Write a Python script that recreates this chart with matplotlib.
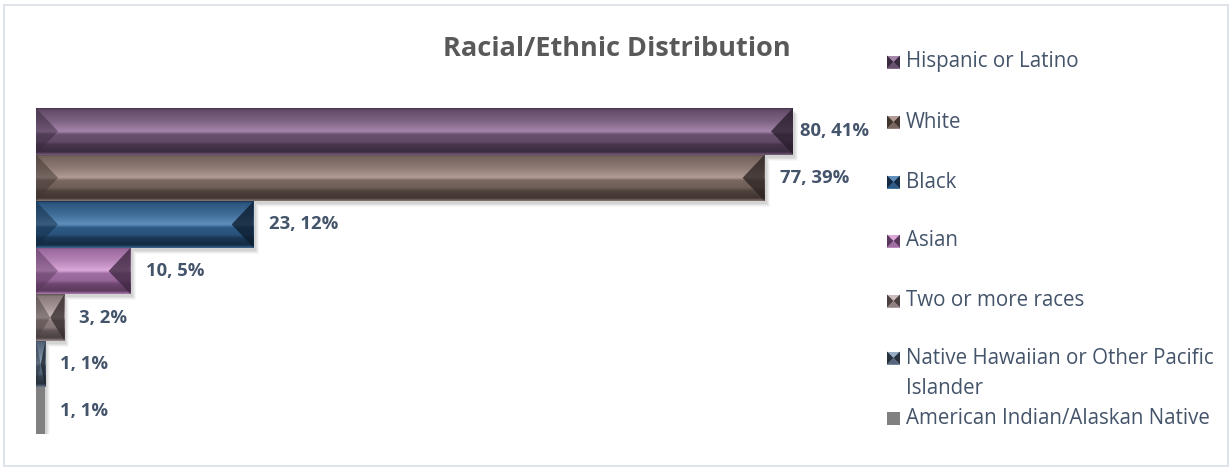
import matplotlib
matplotlib.use("Agg")
import matplotlib.pyplot as plt
import numpy as np
from matplotlib.patches import Polygon, Rectangle
from matplotlib.colors import LinearSegmentedColormap, to_rgb

plt.rcParams['font.family'] = ['Open Sans', 'DejaVu Sans']

# ---- data ----
categories = ["Hispanic or Latino", "White", "Black", "Asian",
              "Two or more races", "Native Hawaiian or Other Pacific\nIslander",
              "American Indian/Alaskan Native"]
counts = [80, 77, 23, 10, 3, 1, 1]
percents = [41, 39, 12, 5, 2, 1, 1]

# bevel palettes: (mid, light, dark)
palettes = [
    ("#68506E", "#A687AC", "#3A2A3F"),
    ("#786660", "#B29C95", "#3F3430"),
    ("#2D5A85", "#6190BD", "#132A42"),
    ("#A06DA3", "#DCA9DA", "#5A385D"),
    ("#8F7F80", "#CDBDBD", "#4B4142"),
    ("#56677D", "#97ABC2", "#27313D"),
    None,
]
flat_color = "#808080"
label_offsets = [7, 15, 15, 15, 15, 15, 15]

W, H = 1231, 468
PX = 9.4625  # pixels per unit on the value axis
AX_L, AX_T, AX_B, AX_W = 36, 108, 434, 850

fig = plt.figure(figsize=(W / 100, H / 100), dpi=100)
fig.patch.set_facecolor("white")

# outer chart border
fig.patches.append(Rectangle((4 / W, 1 - 466 / H), 1224 / W, 461 / H,
                             transform=fig.transFigure, fill=False,
                             edgecolor="#D9DEE6", linewidth=1.2))

ax = fig.add_axes([AX_L / W, 1 - AX_B / H, AX_W / W, (AX_B - AX_T) / H])
ax.set_xlim(0, AX_W / PX)
ax.set_ylim(len(counts) - 0.5, -0.5)
ax.axis("off")

bars = ax.barh(range(len(counts)), counts, height=1.0, color="none")

row_px = (AX_B - AX_T) / len(counts)


def bevel(ax, rect, pal):
    x0, y0 = rect.get_x(), rect.get_y()
    w, h = rect.get_width(), rect.get_height()
    x1, y1 = x0 + w, y0 + h
    # soft drop shadow
    for k, a in enumerate([0.06, 0.05, 0.04, 0.03]):
        sx = (2 + k) / PX
        sy = (3 + k) / row_px
        ax.add_patch(Rectangle((x0, y0 + sy), w + sx, h, facecolor="black",
                               alpha=a, edgecolor="none", zorder=1))
    if pal is None:
        ax.add_patch(Rectangle((x0, y0), w, h, facecolor=flat_color,
                               edgecolor="none", zorder=2))
        return
    mid, light, dark = (np.array(to_rgb(c)) for c in pal)
    stops = [
        (0.00, dark * 0.8 + mid * 0.2),
        (0.04, mid * 0.9 + dark * 0.1),
        (0.30, mid * 0.6 + light * 0.4),
        (0.50, light),
        (0.56, mid),
        (0.72, mid * 0.85 + dark * 0.15),
        (0.78, dark * 0.7 + mid * 0.3),
        (0.94, dark),
        (1.00, mid * 0.7 + light * 0.3),
    ]
    cmap = LinearSegmentedColormap.from_list("bv", [(s, tuple(c)) for s, c in stops])
    grad = np.linspace(0, 1, 200).reshape(-1, 1)
    clip = Rectangle((x0, y0), w, h, transform=ax.transData)
    im = ax.imshow(grad, cmap=cmap, aspect="auto", interpolation="bicubic",
                   extent=(x0, x1, y1, y0), origin="upper", zorder=2)
    im.set_clip_path(clip)
    dx = min(22 / PX, w / 2)
    ym = y0 + 0.5 * h
    left = Polygon([(x0, y0), (x0 + dx, ym), (x0, y1)], closed=True,
                   facecolor=tuple(dark), alpha=0.5, edgecolor="none", zorder=3)
    right = Polygon([(x1, y0), (x1 - dx, ym), (x1, y1)], closed=True,
                    facecolor=tuple(dark * 0.7), alpha=0.78, edgecolor="none", zorder=3)
    ax.add_patch(left)
    ax.add_patch(right)


for rect, pal in zip(bars, palettes):
    bevel(ax, rect, pal)

for i, (c, p, off) in enumerate(zip(counts, percents, label_offsets)):
    ax.annotate(f"{c}, {p}%", xy=(c, i), xytext=(off, 0), textcoords="offset pixels",
                va="center", ha="left", fontsize=13.3, fontweight="bold",
                color="#44546A", zorder=5)

# title
fig.text(617 / W, 1 - 56 / H, "Racial/Ethnic Distribution", ha="center", va="baseline",
         fontsize=19.5, fontweight="bold", color="#595959")

# legend
leg_y = [62, 122, 182, 241, 301, 358, 418]
for cat, pal, y in zip(categories, palettes, leg_y):
    mx0, mx1 = 887, 900
    my0, my1 = y - 6.5, y + 6.5
    to_fig = lambda px, py: (px / W, 1 - py / H)
    if pal is None:
        fig.patches.append(Polygon([to_fig(mx0, my0), to_fig(mx1, my0), to_fig(mx1, my1),
                                    to_fig(mx0, my1)], closed=True, transform=fig.transFigure,
                                   facecolor=flat_color, edgecolor="none"))
    else:
        mid, light, dark = pal
        fig.patches.append(Polygon([to_fig(mx0, my0), to_fig(mx1, my0), to_fig(mx1, my1),
                                    to_fig(mx0, my1)], closed=True, transform=fig.transFigure,
                                   facecolor=light, edgecolor="none"))
        mc = ((mx0 + mx1) / 2, y)
        fig.patches.append(Polygon([to_fig(mx0, my0), to_fig(*mc), to_fig(mx0, my1)],
                                   closed=True, transform=fig.transFigure,
                                   facecolor=dark, edgecolor="none"))
        fig.patches.append(Polygon([to_fig(mx1, my0), to_fig(*mc), to_fig(mx1, my1)],
                                   closed=True, transform=fig.transFigure,
                                   facecolor=dark, edgecolor="none"))
        fig.patches.append(Polygon([to_fig(mx0, my1), to_fig(*mc), to_fig(mx1, my1)],
                                   closed=True, transform=fig.transFigure,
                                   facecolor=mid, edgecolor="none"))
    lines = cat.split("\n")
    for j, line in enumerate(lines):
        fig.text(906 / W, 1 - (y + 30 * j) / H, line, ha="left", va="center",
                 fontsize=14.8, color="#44546A")

fig.savefig("out.png", dpi=100)
